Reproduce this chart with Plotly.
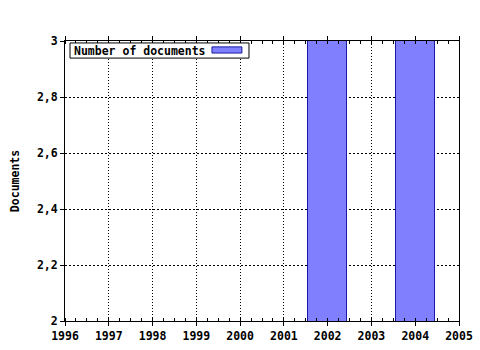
import plotly.graph_objects as go

years = [2002, 2004]
documents = [3, 3]
y_ticks = [2, 2.2, 2.4, 2.6, 2.8, 3]
y_labels = ["2", "2,2", "2,4", "2,6", "2,8", "3"]
x_ticks = list(range(1996, 2006))
series_name = "Number of documents"

FONT = "DejaVu Sans Mono"
FS = 11.5

fig = go.Figure()
fig.add_trace(go.Bar(
    x=years, y=documents, width=0.9, name=series_name,
    marker=dict(color="#8080ff", line=dict(color="#1a1aa0", width=1)),
    showlegend=False,
))

fig.update_layout(
    width=480, height=350,
    margin=dict(l=65, r=21, t=41, b=29, autoexpand=False),
    plot_bgcolor="white", paper_bgcolor="white",
    font=dict(family=FONT, size=FS, color="black"),
    bargap=0,
)
fig.update_xaxes(
    range=[1996, 2005], tickvals=x_ticks, ticktext=[str(v) for v in x_ticks],
    showline=True, linecolor="black", linewidth=1, mirror="allticks",
    ticks="outside", ticklen=4, tickcolor="black",
    showgrid=True, gridcolor="black", griddash="1px,2px", gridwidth=1,
    tickfont=dict(family=FONT, size=FS, weight="bold"),
    minor=dict(dtick=0.25, tick0=1996, ticks="inside", ticklen=3, tickcolor="black", showgrid=False),
    zeroline=False, automargin=False,
)
fig.update_yaxes(
    range=[2, 3], tickvals=y_ticks, ticktext=y_labels,
    showline=True, linecolor="black", linewidth=1, mirror=True,
    ticks="outside", ticklen=4, tickcolor="black",
    showgrid=True, gridcolor="black", griddash="2px,2px", gridwidth=1,
    tickfont=dict(family=FONT, size=FS, weight="bold"),
    title=dict(text="Documents", font=dict(family=FONT, size=FS, weight="bold"), standoff=14),
    zeroline=False, automargin=False,
)

# legend box (swatch on the right, as in the reference)
fig.add_shape(
    type="rect", xref="paper", yref="paper", layer="above",
    x0=0.0127, x1=0.467, y0=0.939, y1=0.993,
    fillcolor="white", line=dict(color="black", width=1),
)
fig.add_shape(
    type="rect", xref="paper", yref="paper", layer="above",
    x0=0.373, x1=0.449, y0=0.957, y1=0.979,
    fillcolor="#8080ff", line=dict(color="#1a1aa0", width=1),
)
fig.add_annotation(
    xref="paper", yref="paper", x=0.0178, y=0.966, xanchor="left", yanchor="middle",
    text=series_name, showarrow=False, align="left",
    font=dict(family=FONT, size=FS, weight="bold"),
)

fig.write_html("out.html")
